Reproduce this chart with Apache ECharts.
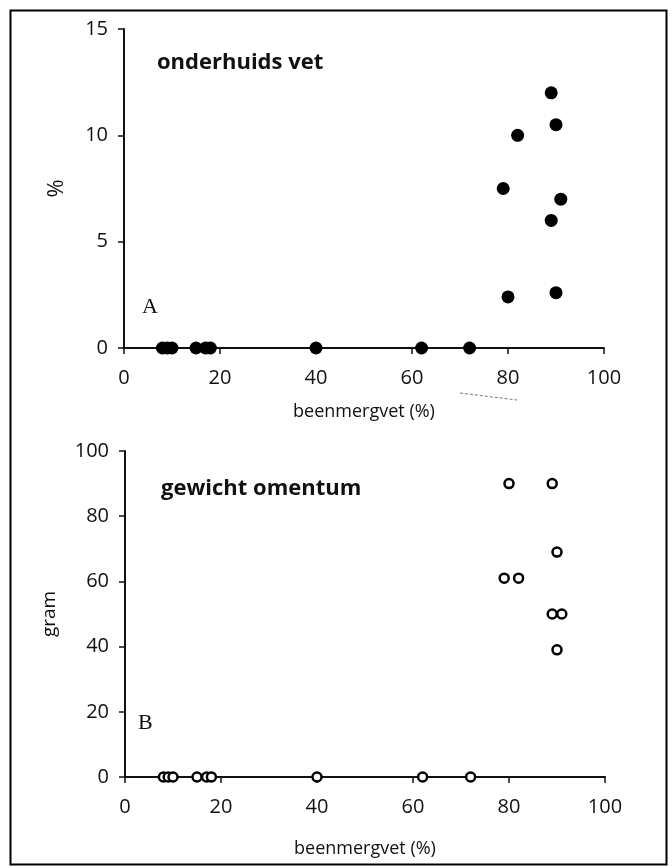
<!DOCTYPE html>
<html lang="nl">
<head>
    <meta charset="UTF-8">
    <title>beenmergvet</title>
    <style>
        html, body { margin: 0; padding: 0; background: #fff; }
        #main { width: 672px; height: 866px; }
    </style>
</head>
<body>
<div id="main"></div>
<script src="https://cdn.jsdelivr.net/npm/echarts@6/dist/echarts.min.js"></script>
<script>
    // paneel A: onderhuids vet (%) tegen beenmergvet (%)
    var vetX = [8, 9, 10, 15, 17, 18, 40, 62, 72, 79, 80, 82, 89, 89, 90, 90, 91];
    var vetY = [0, 0, 0, 0, 0, 0, 0, 0, 0, 7.5, 2.4, 10, 12, 6, 10.5, 2.6, 7];

    // paneel B: gewicht omentum (gram) tegen beenmergvet (%)
    var omX = [8, 9, 10, 15, 17, 18, 40, 62, 72, 79, 80, 82, 89, 89, 90, 90, 91];
    var omY = [0, 0, 0, 0, 0, 0, 0, 0, 0, 61, 90, 61, 90, 50, 69, 39, 50];

    var xTicks = [0, 20, 40, 60, 80, 100];
    var yTicksA = [0, 5, 10, 15];
    var yTicksB = [0, 20, 40, 60, 80, 100];

    function pairs(xs, ys) {
        var out = [];
        for (var i = 0; i < xs.length; i++) out.push([xs[i], ys[i]]);
        return out;
    }

    var font = 'Open Sans';
    var ink = '#111';

    function xAxis(idx, gap) {
        return {
            type: 'value', gridIndex: idx,
            min: xTicks[0], max: xTicks[xTicks.length - 1], interval: 20,
            name: 'beenmergvet (%)', nameLocation: 'middle', nameGap: gap,
            nameTextStyle: {fontFamily: font, fontSize: 18, color: ink},
            axisLine: {onZero: false, lineStyle: {color: ink, width: 2}},
            axisTick: {length: 6, lineStyle: {color: ink, width: 1.5}},
            axisLabel: {fontFamily: font, fontSize: 20, color: ink, margin: 20},
            splitLine: {show: false}
        };
    }

    function yAxis(idx, ticks, name, gap, size) {
        return {
            type: 'value', gridIndex: idx,
            min: ticks[0], max: ticks[ticks.length - 1], interval: ticks[1] - ticks[0],
            name: name, nameLocation: 'middle', nameGap: gap, nameRotate: 90,
            nameTextStyle: {fontFamily: font, fontSize: size, color: ink},
            axisLine: {show: true, lineStyle: {color: ink, width: 2}},
            axisTick: {show: true, length: 6, lineStyle: {color: ink, width: 1.5}},
            axisLabel: {fontFamily: font, fontSize: 20, color: ink, margin: 16},
            splitLine: {show: false}
        };
    }

    var chart = echarts.init(document.getElementById('main'));
    chart.setOption({
        animation: false,
        backgroundColor: '#fff',
        grid: [
            {left: 124, right: 68, top: 29, height: 319},
            {left: 125, right: 67, top: 451, height: 326}
        ],
        xAxis: [xAxis(0, 55), xAxis(1, 63)],
        yAxis: [yAxis(0, yTicksA, '%', 56, 22), yAxis(1, yTicksB, 'gram', 66, 19)],
        series: [
            {
                type: 'scatter', xAxisIndex: 0, yAxisIndex: 0, clip: false,
                symbol: 'circle', symbolSize: 13,
                itemStyle: {color: '#000', opacity: 1},
                data: pairs(vetX, vetY)
            },
            {
                type: 'scatter', xAxisIndex: 1, yAxisIndex: 1, clip: false,
                symbol: 'circle', symbolSize: 9,
                itemStyle: {color: '#fff', borderColor: '#000', borderWidth: 2.5, opacity: 1},
                data: pairs(omX, omY)
            }
        ],
        graphic: [
            {type: 'rect', left: 8, top: 8, shape: {width: 656, height: 854},
                style: {fill: 'none', stroke: '#000', lineWidth: 2}, silent: true},
            {type: 'text', left: 157, top: 52,
                style: {text: 'onderhuids vet', font: 'bold 22px "Open Sans"', fill: ink}},
            {type: 'text', left: 142, top: 296,
                style: {text: 'A', font: '22px "Liberation Serif"', fill: ink}},
            {type: 'text', left: 161, top: 478,
                style: {text: 'gewicht omentum', font: 'bold 22px "Open Sans"', fill: ink}},
            {type: 'text', left: 138, top: 712,
                style: {text: 'B', font: '22px "Liberation Serif"', fill: ink}},
            {type: 'line', shape: {x1: 460, y1: 393, x2: 517, y2: 400},
                style: {stroke: '#777', lineWidth: 1, lineDash: [3, 2]}, silent: true}
        ]
    });
</script>
</body>
</html>
